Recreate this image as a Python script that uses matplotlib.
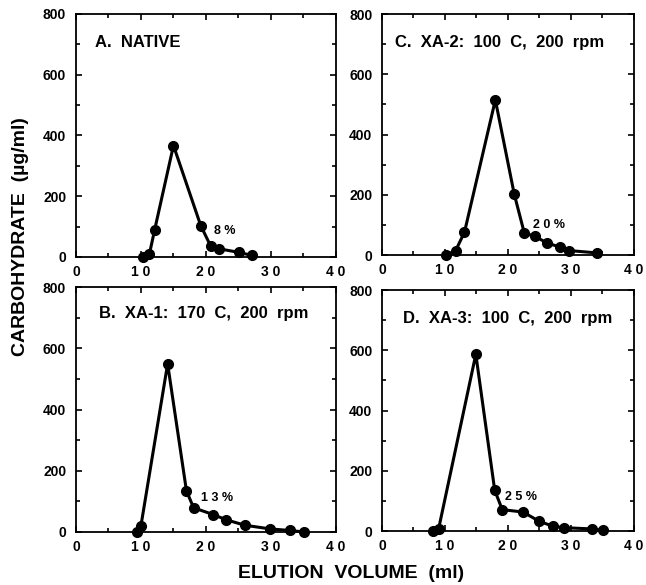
import matplotlib
matplotlib.use("Agg")
import matplotlib.pyplot as plt
from matplotlib.ticker import MultipleLocator

plt.rcParams['font.family'] = ['Liberation Sans', 'DejaVu Sans']
plt.rcParams['font.weight'] = 'bold'

# elution volume (ml) and carbohydrate (ug/ml)
xa = [10.3, 11.3, 12.1, 15.0, 19.2, 20.7, 22.0, 25.1, 27.1]
ya = [0, 10, 89, 367, 103, 37, 27, 15, 5]

xb = [9.4, 10.0, 14.1, 17.0, 18.1, 21.1, 23.1, 26.0, 29.9, 32.9, 35.1]
yb = [0, 21, 549, 134, 79, 57, 40, 22, 10, 5, 0]

xc = [10.2, 11.7, 13.1, 18.0, 21.0, 22.6, 24.3, 26.2, 28.2, 29.7, 34.2]
yc = [0, 15, 76, 515, 202, 73, 62, 40, 27, 15, 7]

xd = [8.1, 9.0, 14.9, 17.9, 19.1, 22.4, 24.9, 27.1, 28.9, 33.3, 35.1]
yd = [0, 8, 587, 135, 71, 63, 33, 16, 11, 7, 2]

titles = ["A.  NATIVE", "B.  XA-1:  170  C,  200  rpm",
          "C.  XA-2:  100  C,  200  rpm", "D.  XA-3:  100  C,  200  rpm"]
pct = ["8 %", "1 3 %", "2 0 %", "2 5 %"]
pct_pos = [(21.3, 85), (19.2, 112), (24.0, 100), (19.6, 112)]
title_pos = [(2.9, 705), (3.5, 712), (2.0, 705), (3.3, 705)]

# axes rectangles in figure fractions
rects = [
    [0.1176, 0.5607, 0.4025, 0.4154],
    [0.1176, 0.0906, 0.4025, 0.4188],
    [0.5913, 0.5640, 0.3900, 0.4120],
    [0.5913, 0.0923, 0.3900, 0.4117],
]
data = [(xa, ya), (xb, yb), (xc, yc), (xd, yd)]

fig = plt.figure(figsize=(6.46, 5.85), dpi=100)

for i in range(4):
    ax = fig.add_axes(rects[i])
    x, y = data[i]
    ax.plot(x, y, color='black', lw=2.2, marker='o', ms=7,
            markerfacecolor='black', markeredgecolor='black', clip_on=False, zorder=3)
    ax.set_xlim(0, 40)
    ax.set_ylim(0, 800)
    ax.xaxis.set_major_locator(MultipleLocator(10))
    ax.xaxis.set_minor_locator(MultipleLocator(5))
    ax.yaxis.set_major_locator(MultipleLocator(200))
    ax.yaxis.set_minor_locator(MultipleLocator(100))
    ax.tick_params(which='both', direction='in', top=True, right=True, width=1.2)
    ax.tick_params(which='major', length=4, labelsize=10)
    ax.tick_params(axis='y', which='major', pad=7)
    ax.tick_params(axis='x', which='major', pad=6)
    ax.tick_params(which='minor', length=3)
    ax.set_xticks([0, 10, 20, 30, 40])
    ax.set_xticklabels(["0", "1 0", "2 0", "3 0", "4 0"])
    for lab in ax.get_xticklabels() + ax.get_yticklabels():
        lab.set_fontweight('bold')
    for s in ax.spines.values():
        s.set_linewidth(1.3)
    ax.text(title_pos[i][0], title_pos[i][1], titles[i], fontsize=12,
            fontweight='bold', ha='left', va='center')
    ax.text(pct_pos[i][0], pct_pos[i][1], pct[i], fontsize=9,
            fontweight='bold', ha='left', va='center')

fig.text(0.032, 0.595, "CARBOHYDRATE  (\u00b5g/ml)", rotation=90, fontsize=14,
         fontweight='bold', ha='center', va='center')
fig.text(0.544, 0.02, "ELUTION  VOLUME  (ml)", fontsize=14,
         fontweight='bold', ha='center', va='center')

fig.savefig("out.png", dpi=100)
